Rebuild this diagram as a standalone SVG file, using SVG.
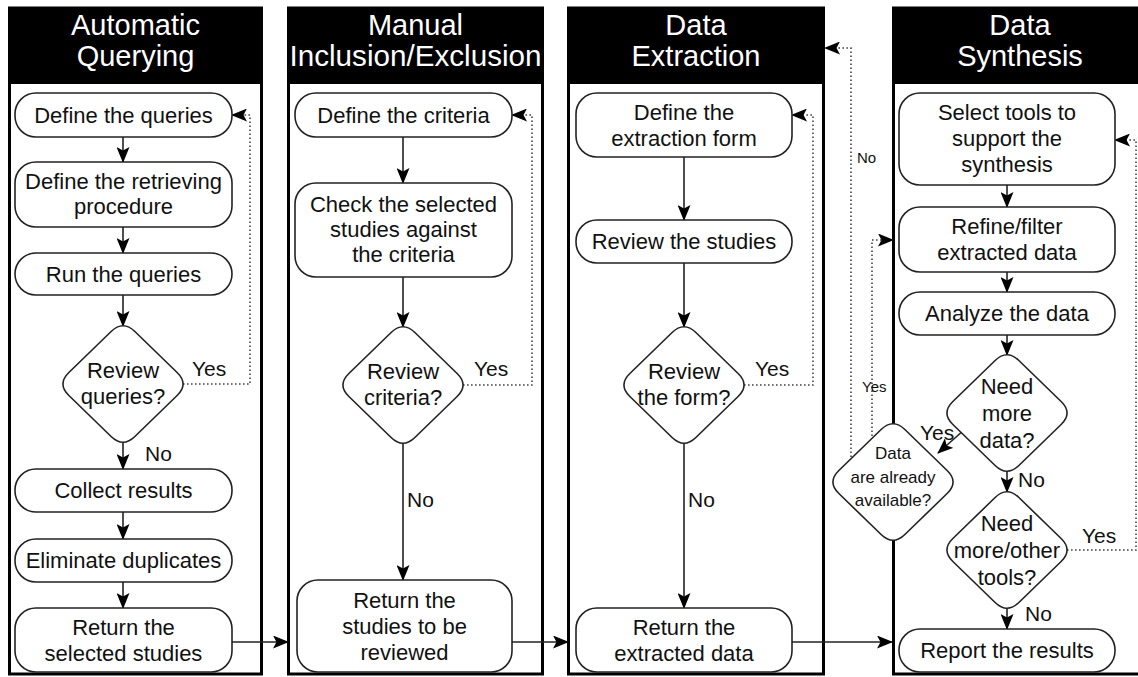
<svg xmlns="http://www.w3.org/2000/svg" width="1138" height="677" viewBox="0 0 1138 677">
<style>
.lane{fill:#fff;stroke:#000;stroke-width:3}
.hdr{fill:#000}
.ht{font-family:"Liberation Sans",Arial,sans-serif;font-size:29px;fill:#fff;text-anchor:middle}
.n{fill:#fff;stroke:#222;stroke-width:1.6}
.t{font-family:"Liberation Sans",Arial,sans-serif;font-size:22px;fill:#111;text-anchor:middle}
.ts{font-family:"Liberation Sans",Arial,sans-serif;font-size:17px;fill:#111;text-anchor:middle}
.lb{font-family:"Liberation Sans",Arial,sans-serif;font-size:21px;fill:#111}
.lbs{font-family:"Liberation Sans",Arial,sans-serif;font-size:15px;fill:#111}
.c{fill:none;stroke:#222;stroke-width:1.6}
.d{fill:none;stroke:#444;stroke-width:1.6;stroke-dasharray:1.6 2.4}
</style>
<defs>
<marker id="ah" viewBox="0 0 16 13" refX="15" refY="6.5" markerWidth="16" markerHeight="13" markerUnits="userSpaceOnUse" orient="auto">
<path d="M0,0 L16,6.5 L0,13 L3.5,6.5 Z" fill="#000"/>
</marker>
<path id="dia" d="M11.88,-52.48 L54.12,-11.52 Q66,0 54.12,11.52 L11.88,52.48 Q0,64 -11.88,52.48 L-54.12,11.52 Q-66,0 -54.12,-11.52 L-11.88,-52.48 Q0,-64 11.88,-52.48 Z"/>
</defs>

<g id="lanes">
<g id="lane-automatic-querying">
<rect class="lane" x="9.5" y="8" width="252" height="666"/>
<rect class="hdr" x="8" y="7" width="255" height="77"/>
<text class="ht" x="135.5" y="35">Automatic</text>
<text class="ht" x="135.5" y="66">Querying</text>
</g>
<g id="lane-manual">
<rect class="lane" x="288.5" y="8" width="254" height="666"/>
<rect class="hdr" x="287" y="7" width="257" height="77"/>
<text class="ht" x="415.5" y="35">Manual</text>
<text class="ht" x="415.5" y="66" textLength="252" lengthAdjust="spacingAndGlyphs">Inclusion/Exclusion</text>
</g>
<g id="lane-extraction">
<rect class="lane" x="568.5" y="8" width="255" height="666"/>
<rect class="hdr" x="567" y="7" width="258" height="77"/>
<text class="ht" x="696" y="35">Data</text>
<text class="ht" x="696" y="66">Extraction</text>
</g>
<g id="lane-synthesis">
<rect class="lane" x="893.5" y="8" width="260" height="666"/>
<rect class="hdr" x="892" y="7" width="263" height="77"/>
<text class="ht" x="1020" y="35">Data</text>
<text class="ht" x="1020" y="66">Synthesis</text>
</g>
</g>

<g id="connectors">
<line class="c" x1="123" y1="137" x2="123" y2="162" marker-end="url(#ah)"/>
<line class="c" x1="123" y1="227" x2="123" y2="253" marker-end="url(#ah)"/>
<line class="c" x1="123" y1="295" x2="123" y2="326" marker-end="url(#ah)"/>
<line class="c" x1="123" y1="442" x2="123" y2="469" marker-end="url(#ah)"/>
<line class="c" x1="123" y1="512" x2="123" y2="539" marker-end="url(#ah)"/>
<line class="c" x1="123" y1="582" x2="123" y2="608" marker-end="url(#ah)"/>
<line class="c" x1="232" y1="642" x2="288" y2="642" marker-end="url(#ah)"/>
<polyline class="d" points="183,384 250,384 250,115 232,115" marker-end="url(#ah)"/>
<line class="c" x1="403" y1="137" x2="403" y2="183" marker-end="url(#ah)"/>
<line class="c" x1="403" y1="277" x2="403" y2="327" marker-end="url(#ah)"/>
<line class="c" x1="403" y1="443" x2="403" y2="580" marker-end="url(#ah)"/>
<polyline class="d" points="463,385 532,385 532,115 512,115" marker-end="url(#ah)"/>
<line class="c" x1="512" y1="642" x2="568" y2="642" marker-end="url(#ah)"/>
<line class="c" x1="684" y1="157" x2="684" y2="220" marker-end="url(#ah)"/>
<line class="c" x1="684" y1="263" x2="684" y2="327" marker-end="url(#ah)"/>
<line class="c" x1="684" y1="443" x2="684" y2="608" marker-end="url(#ah)"/>
<polyline class="d" points="744,385 813,385 813,115 792,115" marker-end="url(#ah)"/>
<line class="c" x1="792" y1="642" x2="892" y2="642" marker-end="url(#ah)"/>
<line class="c" x1="1007" y1="185" x2="1007" y2="207" marker-end="url(#ah)"/>
<line class="c" x1="1007" y1="272" x2="1007" y2="292" marker-end="url(#ah)"/>
<line class="c" x1="1007" y1="335" x2="1007" y2="355" marker-end="url(#ah)"/>
<line class="c" x1="1007" y1="471" x2="1007" y2="492" marker-end="url(#ah)"/>
<line class="c" x1="1007" y1="608" x2="1007" y2="629" marker-end="url(#ah)"/>
<line class="c" x1="964" y1="430" x2="938" y2="453" marker-end="url(#ah)"/>
<polyline class="d" points="1067,550 1136,550 1136,140 1115,140" marker-end="url(#ah)"/>
<polyline class="d" points="851,465 851,48 825,48" marker-end="url(#ah)"/>
<polyline class="d" points="872,444 872,240 893,240" marker-end="url(#ah)"/>
<text class="lb" x="192" y="376">Yes</text>
<text class="lb" x="145" y="461">No</text>
<text class="lb" x="474" y="376">Yes</text>
<text class="lb" x="407" y="507">No</text>
<text class="lb" x="755" y="376">Yes</text>
<text class="lb" x="688" y="507">No</text>
<text class="lbs" x="857" y="163">No</text>
<text class="lbs" x="862" y="392">Yes</text>
<text class="lb" x="920" y="440">Yes</text>
<text class="lb" x="1018" y="487">No</text>
<text class="lb" x="1082" y="543">Yes</text>
<text class="lb" x="1025" y="621">No</text>
</g>

<g id="n-define-queries"><rect class="n" x="15" y="93" width="217" height="44" rx="21"/><text class="t" x="123.5" y="123">Define the queries</text></g>
<g id="n-define-retrieving"><rect class="n" x="15" y="162" width="217" height="65" rx="21"/><text class="t" x="123.5" y="189">Define the retrieving</text><text class="t" x="123.5" y="214">procedure</text></g>
<g id="n-run-queries"><rect class="n" x="15" y="253" width="217" height="42" rx="21"/><text class="t" x="123.5" y="282">Run the queries</text></g>
<g id="n-review-queries"><use href="#dia" class="n" transform="translate(123,384)"/><text class="t" x="123" y="378">Review</text><text class="t" x="123" y="404">queries?</text></g>
<g id="n-collect"><rect class="n" x="15" y="469" width="217" height="43" rx="21"/><text class="t" x="123.5" y="498">Collect results</text></g>
<g id="n-eliminate"><rect class="n" x="15" y="539" width="217" height="43" rx="21"/><text class="t" x="123.5" y="568">Eliminate duplicates</text></g>
<g id="n-return-selected"><rect class="n" x="15" y="608" width="217" height="64" rx="21"/><text class="t" x="123.5" y="635">Return the</text><text class="t" x="123.5" y="661">selected studies</text></g>

<g id="n-define-criteria"><rect class="n" x="295" y="93" width="217" height="44" rx="21"/><text class="t" x="403.5" y="123">Define the criteria</text></g>
<g id="n-check"><rect class="n" x="295" y="183" width="217" height="94" rx="21"/><text class="t" x="403.5" y="212">Check the selected</text><text class="t" x="403.5" y="237">studies against</text><text class="t" x="403.5" y="262">the criteria</text></g>
<g id="n-review-criteria"><use href="#dia" class="n" transform="translate(403,385)"/><text class="t" x="403" y="379">Review</text><text class="t" x="403" y="405">criteria?</text></g>
<g id="n-return-reviewed"><rect class="n" x="297" y="580" width="215" height="92" rx="21"/><text class="t" x="404.5" y="608">Return the</text><text class="t" x="404.5" y="634">studies to be</text><text class="t" x="404.5" y="660">reviewed</text></g>

<g id="n-define-form"><rect class="n" x="576" y="93" width="216" height="64" rx="21"/><text class="t" x="684" y="120">Define the</text><text class="t" x="684" y="146">extraction form</text></g>
<g id="n-review-studies"><rect class="n" x="576" y="220" width="216" height="43" rx="21"/><text class="t" x="684" y="249">Review the studies</text></g>
<g id="n-review-form"><use href="#dia" class="n" transform="translate(684,385)"/><text class="t" x="684" y="379">Review</text><text class="t" x="684" y="405">the form?</text></g>
<g id="n-return-extracted"><rect class="n" x="576" y="608" width="216" height="64" rx="21"/><text class="t" x="684" y="635">Return the</text><text class="t" x="684" y="661">extracted data</text></g>

<g id="n-select-tools"><rect class="n" x="899" y="93" width="216" height="92" rx="21"/><text class="t" x="1007" y="120">Select tools to</text><text class="t" x="1007" y="146">support the</text><text class="t" x="1007" y="172">synthesis</text></g>
<g id="n-refine"><rect class="n" x="899" y="207" width="216" height="65" rx="21"/><text class="t" x="1007" y="234">Refine/filter</text><text class="t" x="1007" y="260">extracted data</text></g>
<g id="n-analyze"><rect class="n" x="899" y="292" width="216" height="43" rx="21"/><text class="t" x="1007" y="321">Analyze the data</text></g>
<g id="n-need-data"><use href="#dia" class="n" transform="translate(1007,413)"/><text class="t" x="1007" y="394">Need</text><text class="t" x="1007" y="421">more</text><text class="t" x="1007" y="448">data?</text></g>
<g id="n-data-available"><use href="#dia" class="n" transform="translate(893,482)"/><text class="ts" x="893" y="459">Data</text><text class="ts" x="893" y="483">are already</text><text class="ts" x="893" y="506">available?</text></g>
<g id="n-need-tools"><use href="#dia" class="n" transform="translate(1007,550)"/><text class="t" x="1007" y="531">Need</text><text class="t" x="1007" y="558">more/other</text><text class="t" x="1007" y="585">tools?</text></g>
<g id="n-report"><rect class="n" x="899" y="629" width="216" height="43" rx="21"/><text class="t" x="1007" y="658">Report the results</text></g>
</svg>
